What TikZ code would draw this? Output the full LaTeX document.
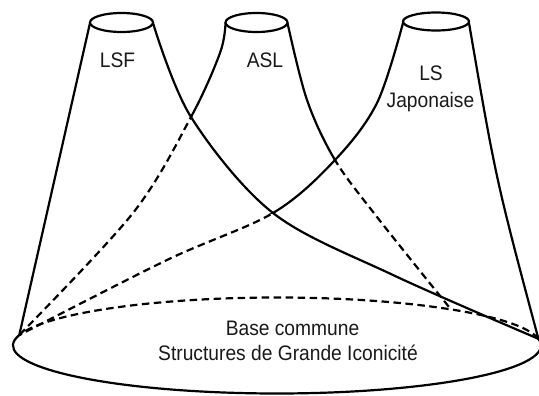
\documentclass[tikz,border=0pt]{standalone}
\usepackage{fontspec}
\setmainfont[FakeStretch=0.915]{Liberation Sans}
\begin{document}
\begin{tikzpicture}[x=1pt,y=-1pt,line width=2.2pt,line join=round,
  visible/.style={draw=black,line cap=round},
  hidden/.style={draw=black,dash pattern=on 7.5pt off 4.5pt,line cap=butt},
  lbl/.style={font=\fontsize{21}{25}\selectfont,text=black!90,inner sep=0pt,anchor=base}]
\useasboundingbox (0,0) rectangle (539,396);
% key points
\coordinate (bc) at (277,345.5);
\coordinate (L) at (19.26,335.11);
\coordinate (R) at (538.43,338.82);
\coordinate (lsfc) at (121.5,22.5);
\coordinate (aslc) at (256.5,22.5);
\coordinate (lsjc) at (436,21.5);
% base ellipse
\draw[hidden] (R) arc[start angle=8,end angle=167.5,x radius=264pt,y radius=48pt];
\draw[visible] (L) arc[start angle=167.5,end angle=368,x radius=264pt,y radius=48pt];
% top ellipses
\draw[visible] (lsfc) ellipse[x radius=31.5pt,y radius=9.5pt];
\draw[visible] (aslc) ellipse[x radius=31pt,y radius=9.5pt];
\draw[visible] (lsjc) ellipse[x radius=33pt,y radius=9pt];
% LSF cone
\draw[visible] (90,23) -- (L);
\draw[visible] plot[smooth,tension=0.55] coordinates {(153,23) (191,117) (273,213) (393,275) (R)};
% ASL left
\begin{scope}
\clip (0,117) rectangle (539,396);
\draw[hidden] plot[smooth,tension=0.55] coordinates {(225.5,23) (220,53) (191,117) (133,213) (L)};
\end{scope}
\begin{scope}
\clip (0,0) rectangle (539,117);
\draw[visible] plot[smooth,tension=0.55] coordinates {(225.5,23) (220,53) (191,117) (133,213) (L)};
\end{scope}
% ASL right
\begin{scope}
\clip (0,160) rectangle (539,396);
\draw[hidden] plot[smooth,tension=0.55] coordinates {(287.5,23) (307,100) (335,160) (377,217) (449,307)};
\end{scope}
\begin{scope}
\clip (0,0) rectangle (539,160);
\draw[visible] plot[smooth,tension=0.55] coordinates {(287.5,23) (307,100) (335,160) (377,217) (449,307)};
\end{scope}
% LSJ left
\begin{scope}
\clip (0,213) rectangle (539,396);
\draw[hidden] plot[smooth,tension=0.55] coordinates {(403,23) (377,103) (335,160) (273,213) (167,260) (L)};
\end{scope}
\begin{scope}
\clip (0,0) rectangle (539,213);
\draw[visible] plot[smooth,tension=0.55] coordinates {(403,23) (377,103) (335,160) (273,213) (167,260) (L)};
\end{scope}
% LSJ right
\draw[visible] (469,23) .. controls (496,180) .. (R);
% labels
\node[lbl] (lsf) at (117.5,68) {LSF};
\node[lbl] (asl) at (265,68) {ASL};
\node[lbl] (ls) at (431,81) {LS};
\node[lbl] (jap) at (430.5,107) {Japonaise};
\node[lbl] (base) at (292.5,335) {Base commune};
\node[lbl] (sgi) at (288,360) {Structures de Grande Iconicité};
\end{tikzpicture}
\end{document}
